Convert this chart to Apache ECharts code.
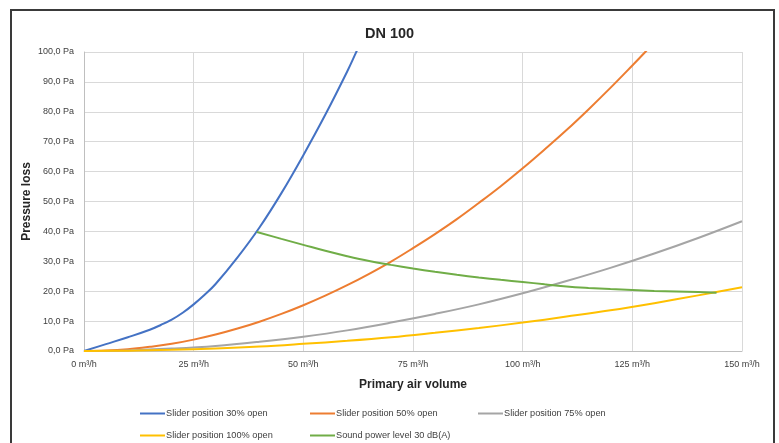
<!DOCTYPE html>
<html>
<head>
<meta charset="utf-8">
<script src="https://cdn.jsdelivr.net/npm/echarts@6/dist/echarts.min.js"></script>
<style>
html,body{margin:0;padding:0;background:#fff;}
#c{width:779px;height:443px;}
</style>
</head>
<body>
<div id="c"></div>
<script>
const chartTitle = 'DN 100';
const xAxisName = 'Primary air volume';
const yAxisName = 'Pressure loss';
const seriesNames = ['Slider position 30% open','Slider position 50% open','Slider position 75% open','Slider position 100% open','Sound power level 30 dB(A)'];
const seriesColors = ['#4472C4','#ED7D31','#A5A5A5','#FFC000','#70AD47'];

// [airflow m³/h, pressure Pa]
const slider30 = [[0,0],[5,2.3],[10,4.6],[15,7.1],[17.5,8.7],[20,10.5],[22.5,12.8],[25,15.6],[27.5,18.8],[30,22.4],[35,31.3],[40,41.3],[45,52.8],[50,65.5],[55,79.0],[60,93.5],[62,99.8],[63,103]];
const slider50 = [[0,0],[5,0.15],[10,0.6],[15,1.4],[20,2.4],[25,3.8],[30,5.5],[35,7.5],[40,9.8],[45,12.4],[50,15.3],[55,18.5],[60,22.0],[65,25.8],[70,29.9],[75,34.4],[80,39.1],[85,44.1],[90,49.5],[95,55.1],[100,61.1],[105,67.4],[110,73.9],[115,80.8],[120,88.0],[125,95.5],[128,100.1],[129,101.7]];
const slider75 = [[0,0],[10,0.2],[20,0.8],[30,1.7],[40,3.1],[50,4.8],[60,6.9],[70,9.5],[80,12.4],[90,15.6],[100,19.3],[110,23.4],[120,27.8],[130,32.6],[140,37.8],[150,43.4]];
const slider100 = [[0,0],[10,0.1],[20,0.4],[30,0.85],[40,1.5],[50,2.4],[60,3.4],[70,4.6],[80,6.1],[90,7.7],[100,9.5],[110,11.5],[120,13.6],[130,16.0],[140,18.6],[150,21.3]];
const sound30 = [[39.4,39.8],[45,37.5],[50,35.5],[55,33.5],[60,31.7],[65,30.1],[70,28.8],[75,27.6],[80,26.5],[85,25.5],[90,24.6],[95,23.8],[100,23.1],[105,22.3],[110,21.6],[115,21.1],[120,20.7],[125,20.4],[130,20.1],[135,19.9],[140,19.7],[144.2,19.5]];

const seriesData = [slider30, slider50, slider75, slider100, sound30];

const xMin = 0, xMax = 150, xStep = 25;
const yMin = 0, yMax = 100, yStep = 10;

const chart = echarts.init(document.getElementById('c'), null, {renderer:'canvas'});
const FONT = 'Liberation Sans';

const legendPos = [[135,404],[305,404],[473,404],[135,426],[305,426]];

const option = {
  backgroundColor:'#fff',
  animation:false,
  title:{text:chartTitle,left:'center',top:21,textStyle:{fontFamily:FONT,fontSize:14.5,fontWeight:'bold',color:'#262626'}},
  graphic:[{type:'rect',shape:{x:11,y:10,width:763,height:460},style:{fill:'none',stroke:'#3a3a3a',lineWidth:2},silent:true,z:-1}],
  legend: seriesNames.map((n,i)=>({
    data:[n], left:legendPos[i][0], top:legendPos[i][1], icon:'rect', itemWidth:25, itemHeight:2, itemGap:0,
    textStyle:{fontFamily:FONT,fontSize:9.2,color:'#404040',padding:[0,0,0,-4]}
  })),
  grid:{left:84,right:37,top:52,bottom:92},
  xAxis:{type:'value',min:xMin,max:xMax,interval:xStep,
    name:xAxisName,nameLocation:'middle',nameGap:28,
    nameTextStyle:{fontFamily:FONT,fontSize:12,fontWeight:'bold',color:'#262626'},
    axisLine:{show:true,lineStyle:{color:'#bfbfbf',width:1}},
    axisTick:{show:false},
    splitLine:{show:true,lineStyle:{color:'#d9d9d9',width:1}},
    axisLabel:{fontFamily:FONT,fontSize:9,color:'#404040',margin:9,formatter:v=>v+' m³/h'}
  },
  yAxis:{type:'value',min:yMin,max:yMax,interval:yStep,
    name:yAxisName,nameLocation:'middle',nameGap:51,nameRotate:90,nameMoveOverlap:false,
    nameTextStyle:{fontFamily:FONT,fontSize:12,fontWeight:'bold',color:'#262626'},
    axisLine:{show:true,lineStyle:{color:'#bfbfbf',width:1}},
    axisTick:{show:false},
    splitLine:{show:true,lineStyle:{color:'#d9d9d9',width:1}},
    axisLabel:{fontFamily:FONT,fontSize:9,color:'#404040',margin:10,formatter:v=>v.toFixed(1).replace('.',',')+' Pa'}
  },
  series: seriesNames.map((n,i)=>({
    name:n,type:'line',data:seriesData[i],smooth:0.4,showSymbol:false,symbol:'none',clip:true,
    lineStyle:{color:seriesColors[i],width:2},itemStyle:{color:seriesColors[i]},
    z: i===4 ? 3 : 2
  }))
};
chart.setOption(option);
</script>
</body>
</html>
